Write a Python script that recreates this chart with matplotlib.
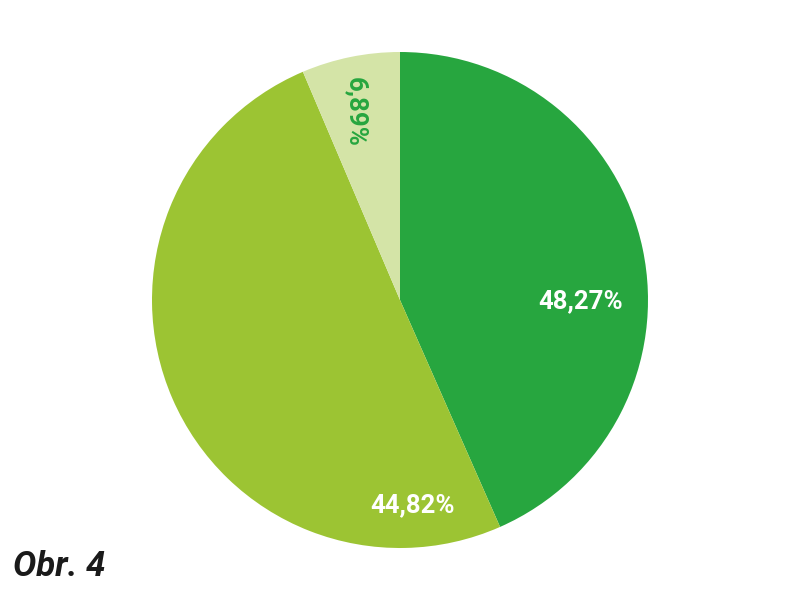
import matplotlib
matplotlib.use("Agg")
import matplotlib.pyplot as plt
import numpy as np

# ─── DATA ──────────────────────────────────────────────────────────────────────
# printed percentages
labels = ["48,27%", "44,82%", "6,89%"]
# wedge arcs as drawn in the picture (degrees)
arcs = [156.2, 180.75, 23.05]
colors = ["#27A63F", "#9CC433", "#D4E4A7"]
label_colors = ["white", "white", "#27A63F"]
# label placement (angle in deg, distance as fraction of radius, rotation)
label_pos = [(-0.5, 0.73, 0), (-86.4, 0.83, 0), (103.2, 0.78, -90)]

plt.rcParams["font.family"] = ["Roboto", "DejaVu Sans"]

fig = plt.figure(figsize=(8, 6), dpi=100)
ax = fig.add_axes([0, 0, 1, 1])

R = 248
ax.pie(arcs, colors=colors, startangle=90, counterclock=False,
       radius=R, center=(0, 0), wedgeprops=dict(linewidth=0))

for lab, col, (ang, dist, rot) in zip(labels, label_colors, label_pos):
    a = np.deg2rad(ang)
    ax.text(dist * R * np.cos(a), dist * R * np.sin(a), lab,
            ha="center", va="center", color=col, fontsize=18.5,
            fontweight="bold", rotation=rot)

ax.set_xlim(-400, 400)
ax.set_ylim(-300, 300)
ax.set_aspect("equal")
ax.axis("off")

fig.text(0.016, 0.055, "Obr. 4", fontsize=25, fontstyle="italic",
         fontweight="bold", color="#1a1a1a", ha="left", va="center")

fig.savefig("out.png", dpi=100)
